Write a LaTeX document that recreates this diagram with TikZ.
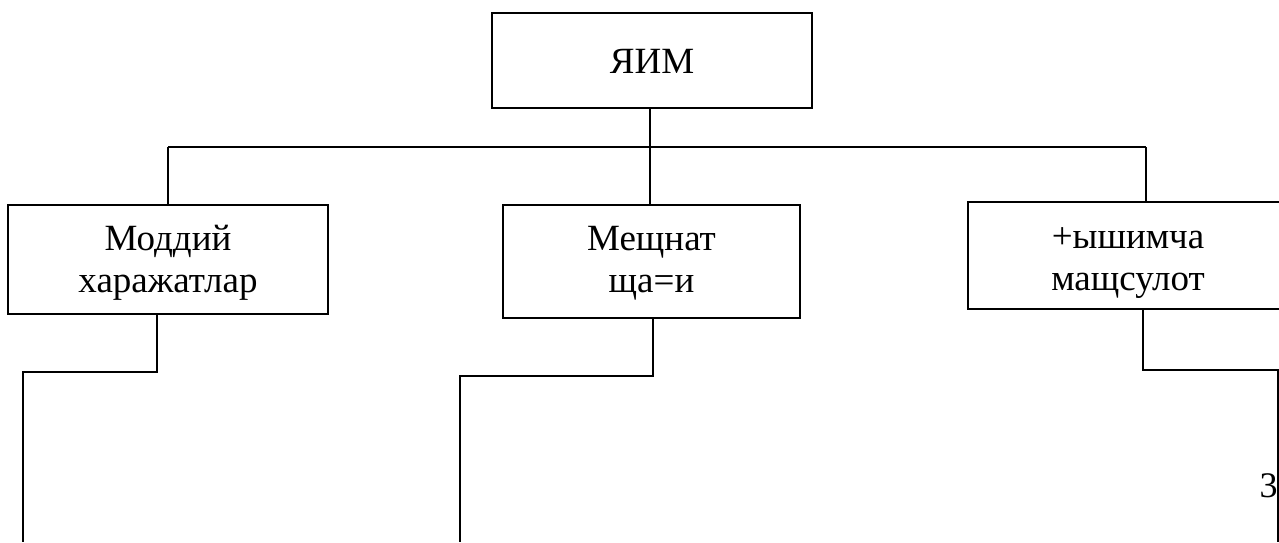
\documentclass[tikz,border=0pt]{standalone}
\usepackage{fontspec}
\setmainfont{Liberation Serif}
\usetikzlibrary{positioning}
\tikzset{myBox/.style={draw, line width=1.5pt, inner sep=0pt, align=center, font=\fontsize{37}{42}\selectfont}}
\tikzset{myLine/.style={line width=1.5pt, color=black}}

\begin{document}
\begin{tikzpicture}[x=1pt,y=-1pt]
		\useasboundingbox (0,0) rectangle (1279,542);
		\clip (0,0) rectangle (1279,542);
		%boxes
		\node[myBox, minimum width=320, minimum height=95, text height=25pt, text depth=0pt] (yim) at (652,60.5) {ЯИМ};
		\node[myBox, minimum width=320, minimum height=109, text height=72pt, text depth=7pt] (moddiy) at (168,259.5) {Моддий\\харажатлар};
		\node[myBox, minimum width=297, minimum height=113, text height=72pt, text depth=11pt] (mehnat) at (651.5,261.5) {Мещнат\\ща=и};
		\node[myBox, minimum width=320, minimum height=107, text height=72pt, text depth=3pt] (qoshimcha) at (1128,255.5) {+ышимча\\мащсулот};
		\node[font=\fontsize{36}{40}\selectfont, inner sep=0pt] (page) at (1268.5,486) {3};
		%bus
		\coordinate (busL) at (168,147);
		\coordinate (busM) at (650,147);
		\coordinate (busR) at (1146,147);
		\draw[myLine](yim.south -| busM)--(busM)--(mehnat.north -| busM);
		\draw[myLine](busL)--(busR);
		\draw[myLine](busL)--(moddiy.north -| busL);
		\draw[myLine](busR)--(qoshimcha.north -| busR);
		%legs below
		\coordinate (A) at (157,372);
		\coordinate (A') at (23,372);
		\coordinate (B) at (653,376);
		\coordinate (B') at (460,376);
		\coordinate (C) at (1143,370);
		\coordinate (C') at (1278,370);
		\draw[myLine](moddiy.south -| A)--(A)--(A')--(23,542);
		\draw[myLine](mehnat.south -| B)--(B)--(B')--(460,542);
		\draw[myLine](qoshimcha.south -| C)--(C)--(C')--(1278,542);
	\end{tikzpicture}
\end{document}
